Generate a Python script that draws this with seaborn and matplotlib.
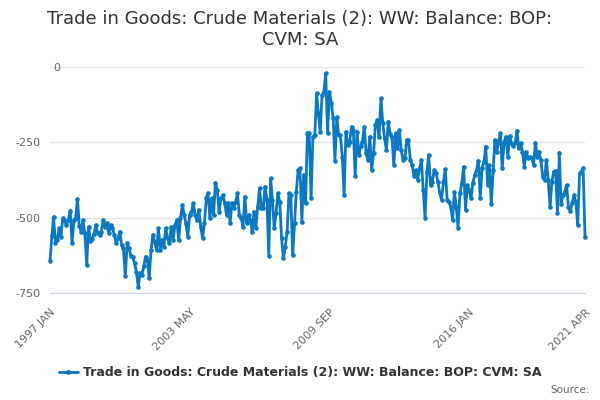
import numpy as np
import pandas as pd
import seaborn as sns
import matplotlib.pyplot as plt
import matplotlib.transforms as mtransforms
from matplotlib.lines import Line2D

# monthly values, 1997 JAN .. 2021 APR in chunks
vals_1997_2000 = [-643, -561, -497, -585, -574, -535, -563, -502, -511, -524, -508, -477,
                  -585, -508, -502, -438, -528, -546, -508, -552, -657, -530, -576, -572,
                  -554, -524, -552, -557, -546, -508, -530, -519, -552, -524, -535, -557,
                  -585, -568, -546, -590, -602, -695, -585, -602, -627, -630, -651, -680]
vals_2001_2005 = [-729, -684, -690, -662, -629, -640, -700, -607, -557, -580, -607, -535,
                  -607, -574, -596, -535, -568, -585, -530, -574, -524, -508, -574, -502,
                  -458, -491, -519, -563, -491, -480, -452, -491, -508, -474, -530, -568,
                  -519, -435, -418, -502, -436, -491, -384, -408, -480, -436, -425, -452, -491]
vals_2005_2009 = [-452, -517, -452, -469, -447, -419, -491, -502, -530, -430, -519, -491,
                  -508, -546, -480, -535, -464, -403, -469, -469, -397, -441, -627, -369,
                  -441, -535, -486, -419, -447, -568, -635, -596, -546, -419, -425, -624,
                  -519, -414, -342, -336, -513, -358, -452, -220, -220, -436, -231, -226,
                  -87, -154]
vals_2009_2013 = [-215, -93, -82, -21, -220, -82, -118, -170, -311, -167, -226, -226,
                  -298, -425, -215, -259, -248, -198, -209, -362, -215, -292, -262, -248,
                  -198, -286, -309, -231, -342, -286, -192, -176, -233, -104, -187, -237,
                  -275, -181, -222, -233, -325, -220, -270, -209, -275, -309, -303, -242]
vals_2013_2017 = [-242, -309, -325, -362, -342, -375, -336, -309, -408, -502, -347, -292,
                  -392, -380, -342, -353, -380, -419, -441, -380, -340, -441, -447, -463,
                  -508, -414, -463, -535, -419, -386, -331, -474, -392, -408, -436, -386,
                  -358, -342, -311, -436, -336, -314, -264, -392, -325, -455, -342, -242, -281]
vals_2017_2021 = [-248, -220, -336, -248, -231, -298, -229, -253, -262, -253, -211, -270,
                  -253, -281, -331, -281, -303, -298, -303, -325, -251, -298, -281, -309,
                  -364, -375, -309, -375, -466, -380, -347, -344, -486, -284, -455, -425,
                  -414, -392, -466, -477, -452, -425, -447, -524, -353, -347, -336, -563]

series_name = "Trade in Goods: Crude Materials (2): WW: Balance: BOP: CVM: SA"
y_ticks = [0, -250, -500, -750]

values = (vals_1997_2000 + vals_2001_2005 + vals_2005_2009 +
          vals_2009_2013 + vals_2013_2017 + vals_2017_2021)
dates = pd.date_range("1997-01-01", periods=len(values), freq="MS")
df = pd.DataFrame({"date": dates, "value": values})

line_col = "#0a78c2"

sns.set_style("white")
plt.rcParams["font.family"] = ["DejaVu Sans"]

fig = plt.figure(figsize=(6, 4), dpi=100)
ax = fig.add_axes([50 / 600, 107 / 400, 535 / 600, 226 / 400])

sns.lineplot(data=df, x="date", y="value", ax=ax, color=line_col, linewidth=2,
             marker="o", markersize=3.3, markeredgewidth=0)
for ln in ax.lines:
    ln.set_clip_on(False)

ax.set_ylim(-750, 0)
ax.set_yticks(y_ticks)
ax.set_yticklabels([str(v) for v in y_ticks])
ax.set_xlim(dates[0], dates[-1])
ax.grid(axis="y", color="#e6e6e6", linewidth=1)
ax.set_axisbelow(True)
for s in ["top", "right", "left"]:
    ax.spines[s].set_visible(False)
ax.spines["bottom"].set_color("#ccd6eb")
ax.set_xlabel("")
ax.set_ylabel("")

tick_idx = list(range(0, len(dates) - 19, 19)) + [len(dates) - 1]
label_idx = [0, 76, 152, 228, len(dates) - 1]
ax.set_xticks([dates[i] for i in tick_idx])
ax.set_xticklabels([dates[i].strftime("%Y %b").upper() if i in label_idx else ""
                    for i in tick_idx], rotation=45, ha="right", rotation_mode="anchor")
ax.tick_params(axis="x", length=8, color="#ccd6eb", labelsize=8, labelcolor="#666666", pad=2)
ax.tick_params(axis="y", length=0, labelsize=8, labelcolor="#666666", pad=7)

# the zero label sits further right in the original
for lbl in ax.get_yticklabels():
    if lbl.get_text() == "0":
        lbl.set_transform(lbl.get_transform() +
                          mtransforms.ScaledTranslation(20 / 100, 0, fig.dpi_scale_trans))

fig.text(0.5, 0.975, "Trade in Goods: Crude Materials (2): WW: Balance: BOP:\nCVM: SA",
         ha="center", va="top", fontsize=13, color="#333333", linespacing=1.2)

handle = Line2D([], [], color=line_col, linewidth=2, marker="o", markersize=3.5,
                markeredgewidth=0)
fig.legend([handle], [series_name], loc="center", bbox_to_anchor=(0.5, 0.068),
           frameon=False, handlelength=1.5, handletextpad=0.4,
           prop={"weight": "bold", "size": 9}, labelcolor="#333333")
fig.text(0.983, 0.025, "Source:", ha="right", va="center", fontsize=7.5, color="#666666")

fig.savefig("out.png", dpi=100)
